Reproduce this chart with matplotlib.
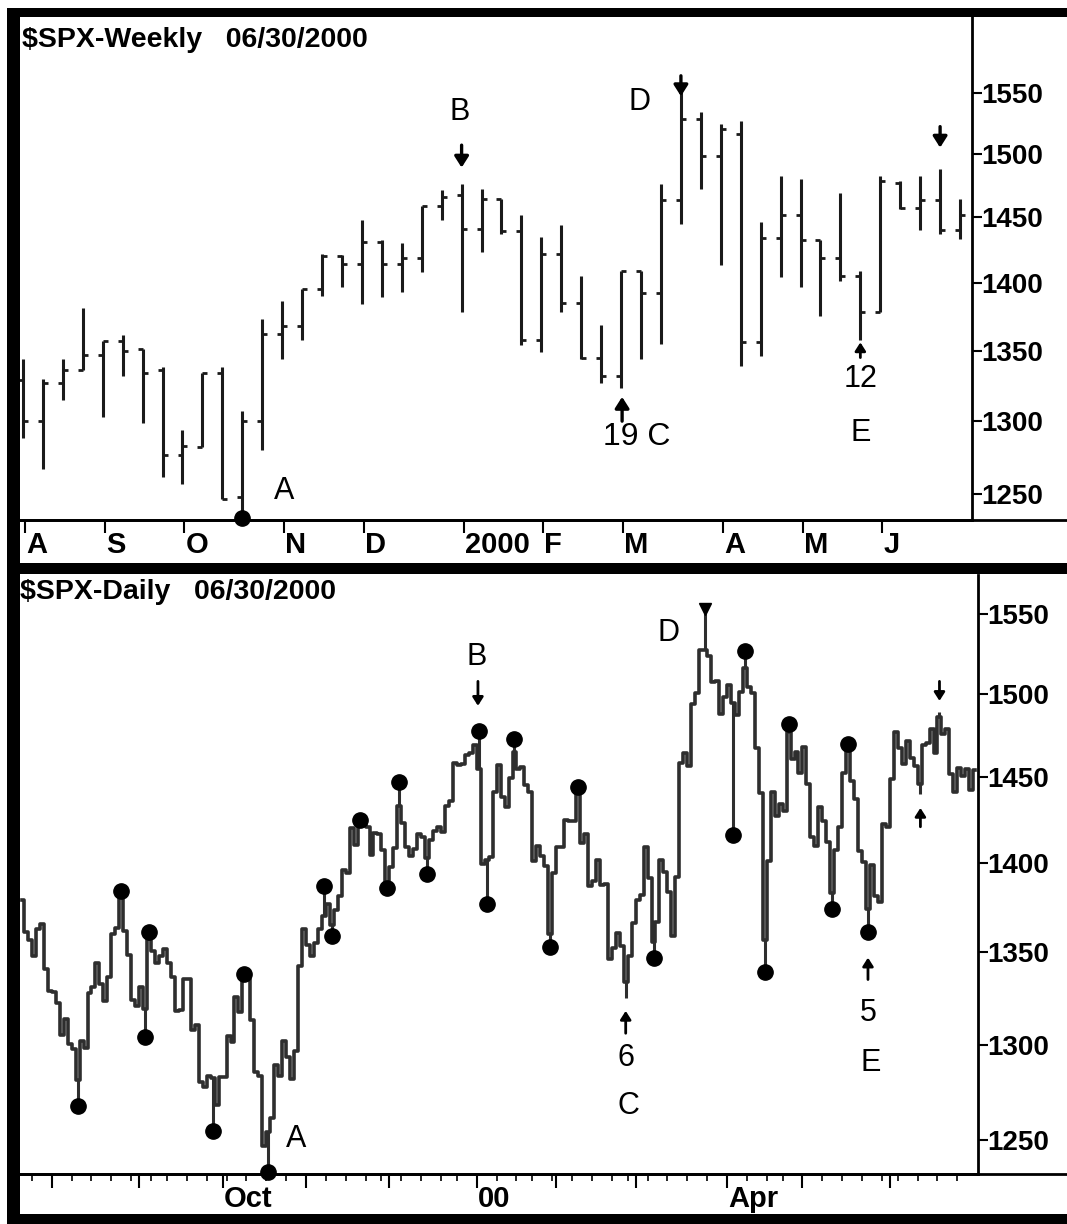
import numpy as np
import pandas as pd
import matplotlib
matplotlib.use("Agg")
import matplotlib.pyplot as plt
from matplotlib.patches import Rectangle
from matplotlib.lines import Line2D
from matplotlib.ticker import NullLocator

plt.rcParams['font.family'] = ['Liberation Sans', 'DejaVu Sans']

# weekly bars, weeks ending Fridays 1999-08-06 .. 2000-06-30
wk_open = [1329, 1300, 1327, 1336, 1347, 1357, 1351, 1336, 1277, 1282, 1334, 1248,
           1300, 1362, 1368, 1395, 1420, 1414, 1431, 1414, 1419, 1459, 1467, 1441,
           1464, 1439, 1358, 1422, 1385, 1345, 1332, 1409, 1392, 1463, 1528, 1498,
           1516, 1356, 1434, 1452, 1432, 1419, 1405, 1378, 1477, 1457, 1463, 1440]
wk_high = [1344, 1330, 1344, 1381, 1357, 1361, 1351, 1338, 1294, 1334, 1338, 1307,
           1373, 1386, 1395, 1422, 1421, 1448, 1432, 1430, 1459, 1471, 1476, 1472,
           1464, 1452, 1435, 1444, 1405, 1369, 1409, 1409, 1476, 1553, 1534, 1524,
           1527, 1446, 1482, 1480, 1432, 1469, 1409, 1482, 1478, 1482, 1488, 1464]
wk_low = [1288, 1267, 1315, 1336, 1303, 1332, 1299, 1262, 1257, 1282, 1247, 1234,
          1280, 1344, 1358, 1390, 1397, 1384, 1389, 1393, 1408, 1448, 1378, 1423,
          1437, 1354, 1349, 1378, 1344, 1327, 1323, 1344, 1355, 1445, 1472, 1413,
          1339, 1346, 1404, 1397, 1375, 1401, 1358, 1378, 1456, 1440, 1437, 1433]
wk_close = [1300, 1327, 1336, 1347, 1357, 1350, 1334, 1277, 1283, 1334, 1247, 1300,
            1362, 1368, 1395, 1420, 1414, 1431, 1414, 1419, 1459, 1466, 1441, 1464,
            1439, 1358, 1422, 1385, 1345, 1332, 1409, 1392, 1463, 1528, 1498, 1520,
            1356, 1434, 1452, 1432, 1419, 1405, 1378, 1478, 1457, 1463, 1440, 1452]
wk_month_labels = ['A', 'S', 'O', 'N', 'D', '2000', 'F', 'M', 'A', 'M', 'J']

# daily closes, trading days 1999-07-21 .. 2000-06-30
closes = [
    # Jul
    1379.3, 1361.0, 1356.9, 1347.8, 1362.8, 1365.4, 1341.0, 1328.7,
    # Aug
    1328.1, 1322.2, 1305.3, 1313.7, 1300.3, 1297.8, 1281.4, 1301.9, 1298.2, 1327.7, 1330.8,
    1344.2, 1332.8, 1323.6, 1336.6, 1360.2, 1363.5, 1381.8, 1362.0, 1348.3, 1324.0, 1320.4,
    # Sep
    1331.1, 1319.1, 1357.2, 1350.5, 1344.2, 1347.7, 1351.7, 1344.1, 1336.3, 1318.0, 1318.5,
    1335.4, 1335.5, 1307.6, 1310.5, 1280.4, 1277.4, 1283.3, 1282.2, 1268.4, 1282.7,
    # Oct
    1282.8, 1304.6, 1301.4, 1325.4, 1317.6, 1336.0, 1335.2, 1313.0, 1285.6, 1283.4, 1247.4,
    1254.1, 1261.3, 1289.4, 1283.6, 1301.7, 1293.6, 1281.9, 1296.7, 1342.4, 1362.9,
    # Nov
    1354.1, 1347.7, 1354.9, 1362.6, 1370.2, 1377.0, 1365.3, 1373.5, 1381.5, 1396.1, 1394.4,
    1420.1, 1410.7, 1424.9, 1422.0, 1420.9, 1404.6, 1417.1, 1416.6, 1407.8, 1388.9,
    # Dec
    1397.7, 1409.0, 1433.3, 1423.3, 1409.2, 1403.9, 1408.1, 1417.0, 1415.2, 1403.2, 1413.3,
    1418.8, 1421.0, 1418.1, 1433.4, 1436.1, 1458.3, 1457.1, 1457.7, 1463.5, 1464.5, 1469.3,
    # Jan
    1455.2, 1399.4, 1402.1, 1403.5, 1441.5, 1457.6, 1438.6, 1432.3, 1449.7, 1465.2,
    1455.1, 1455.9, 1445.6, 1441.4, 1401.5, 1410.0, 1404.1, 1398.6, 1360.2, 1394.5,
    # Feb
    1409.3, 1409.1, 1425.0, 1424.4, 1424.2, 1441.7, 1411.7, 1416.8, 1387.1, 1389.9,
    1402.1, 1387.7, 1388.3, 1346.1, 1352.2, 1360.7, 1353.4, 1333.4, 1348.1, 1366.4,
    # Mar
    1379.2, 1381.8, 1409.2, 1391.3, 1355.6, 1366.7, 1401.7, 1395.1, 1383.6, 1359.2, 1392.1,
    1458.5, 1464.5, 1456.6, 1493.9, 1500.6, 1527.4, 1527.5, 1523.9, 1507.7, 1508.5, 1487.9, 1498.6,
    # Apr
    1506.0, 1494.7, 1487.4, 1501.3, 1516.4, 1504.5, 1500.6, 1467.2, 1440.5, 1356.6,
    1401.4, 1441.6, 1427.5, 1434.5, 1429.9, 1477.4, 1461.0, 1464.9, 1452.4,
    # May
    1468.3, 1446.3, 1415.1, 1409.6, 1432.6, 1424.2, 1412.1, 1383.1, 1407.8, 1421.0, 1452.4,
    1466.0, 1447.8, 1437.2, 1407.0, 1400.7, 1373.9, 1399.1, 1381.5, 1378.0, 1422.5, 1420.6,
    # Jun
    1448.8, 1477.3, 1467.6, 1457.8, 1471.4, 1461.7, 1457.0, 1446.0, 1469.4, 1470.5, 1478.7,
    1464.5, 1486.0, 1476.0, 1479.1, 1452.2, 1441.5, 1455.3, 1450.6, 1454.8, 1442.4, 1454.6,
]
holidays = ['1999-09-06', '1999-11-25', '1999-12-24', '2000-01-17', '2000-02-21',
            '2000-04-21', '2000-05-29']

# marked daily swing points (day index, price)
pivot_idx = [14, 25, 31, 32, 48, 56, 62, 76, 78, 85, 92, 95, 102, 115, 117, 124, 133,
             140, 159, 179, 182, 187, 193, 204, 208, 213]
pivot_val = [1268, 1384, 1304, 1361, 1255, 1338, 1234, 1387, 1359, 1425, 1386, 1447, 1394,
             1478, 1377, 1473, 1353, 1444, 1347, 1416, 1527, 1339, 1482, 1374, 1470, 1361]
top_idx, top_val = 172, 1553
spike_idx = [152, 226, 231]
spike_val = [1325, 1440, 1489]

W, H = 1067, 1224
fig = plt.figure(figsize=(W / 100, H / 100), dpi=100)


def fx(px):
    return px / W


def fy(py):
    return 1 - py / H


def block(x0, y0, x1, y1):
    fig.add_artist(Rectangle((fx(x0), fy(y1)), fx(x1) - fx(x0), fy(y0) - fy(y1),
                             transform=fig.transFigure, color='black', lw=0, zorder=10))


def hline(y, x0, x1, lw=2):
    fig.add_artist(Line2D([fx(x0), fx(x1)], [fy(y), fy(y)], transform=fig.transFigure,
                          color='black', lw=lw, zorder=9))


def arrow(ax, x, y0, y1, lw=2.4, ms=12):
    ax.annotate('', xy=(x, y1), xytext=(x, y0),
                arrowprops=dict(arrowstyle='-|>,head_length=0.55,head_width=0.35', lw=lw,
                                color='black', shrinkA=0, shrinkB=0, mutation_scale=ms))


def style_price_axis(ax):
    ax.set_yscale('log')
    ax.yaxis.tick_right()
    ax.set_yticks([1250, 1300, 1350, 1400, 1450, 1500, 1550])
    ax.set_yticklabels(['1250', '1300', '1350', '1400', '1450', '1500', '1550'],
                       fontsize=20, fontweight='bold')
    ax.yaxis.set_minor_locator(NullLocator())
    ax.tick_params(axis='y', which='both', direction='out', length=7, width=1.5, pad=0)
    for s in ['left', 'top']:
        ax.spines[s].set_visible(False)
    ax.spines['right'].set_linewidth(2)
    ax.spines['bottom'].set_linewidth(2)


# ---------------- weekly panel ----------------
ax1 = fig.add_axes([fx(20), fy(520), fx(972) - fx(20), fy(17) - fy(520)])
weeks = pd.date_range('1999-08-06', '2000-06-30', freq='W-FRI')
wi = np.arange(len(weeks))
ax1.vlines(wi, wk_low, wk_high, color='#1a1a1a', lw=2.2)
ax1.hlines(wk_open, wi - 0.25, wi, color='#1a1a1a', lw=2)
ax1.hlines(wk_close, wi, wi + 0.25, color='#1a1a1a', lw=2)
style_price_axis(ax1)
ax1.set_ylim(1233, 1614)
ax1.set_xlim(-0.15, 47.6)

wk_ticks = [0] + [i for i in range(1, len(weeks)) if weeks[i].month != weeks[i - 1].month]
ax1.set_xticks([t + 0.1 for t in wk_ticks])
ax1.set_xticklabels([])
ax1.tick_params(axis='x', direction='out', length=9, width=1.5)
for t, lab in zip(wk_ticks, wk_month_labels):
    ax1.text(t + 0.15, -0.05, lab, transform=ax1.get_xaxis_transform(), ha='left',
             va='center', fontsize=21, fontweight='bold')

# weekly annotations
ax1.plot(11, wk_low[11], 'o', color='black', ms=11, clip_on=False)
ax1.text(21.9, 1534, 'B', fontsize=22, ha='center', va='center')
arrow(ax1, 22, 1507, 1489)
ax1.text(13.1, 1252, 'A', fontsize=22, ha='center', va='center')
ax1.text(30.9, 1542, 'D', fontsize=22, ha='center', va='center')
arrow(ax1, 33, 1564, 1547)
arrow(ax1, 30.05, 1300, 1317)
ax1.text(30.8, 1289, '19 C', fontsize=23, ha='center', va='center')
arrow(ax1, 42, 1345, 1356, lw=2, ms=9)
ax1.text(42, 1330, '12', fontsize=22, ha='center', va='center')
ax1.text(42, 1292, 'E', fontsize=22, ha='center', va='center')
arrow(ax1, 46, 1522, 1505)

# ---------------- daily panel ----------------
ax2 = fig.add_axes([fx(20), fy(1174), fx(978) - fx(20), fy(575) - fy(1174)])
days = pd.bdate_range('1999-07-21', '2000-06-30')
days = days[~days.isin(pd.to_datetime(holidays))]
di = np.arange(len(days))
closes = np.array(closes)
bar_col = '#2e2e2e'
ax2.step(di, closes, where='mid', color=bar_col, lw=2.6)
ax2.vlines(pivot_idx, closes[pivot_idx], pivot_val, color=bar_col, lw=2.2)
ax2.vlines(spike_idx, closes[spike_idx], spike_val, color=bar_col, lw=2.2)
ax2.plot(pivot_idx, pivot_val, 'o', color='black', ms=11, clip_on=False)
ax2.vlines(top_idx, closes[top_idx], top_val, color=bar_col, lw=2.2)
ax2.plot(top_idx, top_val, 'v', color='black', ms=8)
style_price_axis(ax2)
ax2.set_ylim(1233, 1575)
ax2.set_xlim(-0.5, len(days) - 0.3)

month_starts = [i for i in range(1, len(days)) if days[i].month != days[i - 1].month]
week_starts = [i for i in range(1, len(days)) if days[i].weekday() < days[i - 1].weekday()]
ax2.set_xticks([i - 0.5 for i in month_starts])
ax2.set_xticks([i - 0.5 for i in week_starts], minor=True)
ax2.set_xticklabels([])
ax2.tick_params(axis='x', which='major', direction='out', length=10, width=1.5)
ax2.tick_params(axis='x', which='minor', direction='out', length=5, width=1.2)
for i in month_starts:
    m = days[i].month
    if m in (10, 1, 4):
        lab = {10: 'Oct', 1: '00', 4: 'Apr'}[m]
        ax2.text(i - 0.2, -0.041, lab, transform=ax2.get_xaxis_transform(), ha='left',
                 va='center', fontsize=21, fontweight='bold')

ax2.text(114.4, 1523, 'B', fontsize=22, ha='center', va='center')
arrow(ax2, 114.8, 1508, 1493, lw=2, ms=9)
ax2.text(162.7, 1538, 'D', fontsize=22, ha='center', va='center')
ax2.text(69, 1251, 'A', fontsize=22, ha='center', va='center')
arrow(ax2, 152, 1306, 1318, lw=2, ms=9)
ax2.text(152, 1293, '6', fontsize=22, ha='center', va='center')
ax2.text(152.7, 1268, 'C', fontsize=22, ha='center', va='center')
arrow(ax2, 213, 1335, 1347, lw=2, ms=9)
ax2.text(213, 1317, '5', fontsize=22, ha='center', va='center')
ax2.text(213.7, 1290, 'E', fontsize=22, ha='center', va='center')
arrow(ax2, 231, 1508, 1496, lw=2, ms=9)
arrow(ax2, 226.2, 1421, 1432, lw=2, ms=9)

# titles
fig.text(fx(22), fy(40), r'\$SPX-Weekly   06/30/2000', fontsize=20.5, fontweight='bold',
         va='center', ha='left')
fig.text(fx(20), fy(592), r'\$SPX-Daily   06/30/2000', fontsize=20.5, fontweight='bold',
         va='center', ha='left')

# frame and full-width axis lines
hline(520, 20, 1067)
hline(1174, 20, 1067)
block(7, 8, 20, 1224)
block(7, 8, 1067, 17)
block(7, 563, 1067, 574)
block(7, 1214, 1067, 1224)

fig.savefig('out.png', dpi=100, facecolor='white')
